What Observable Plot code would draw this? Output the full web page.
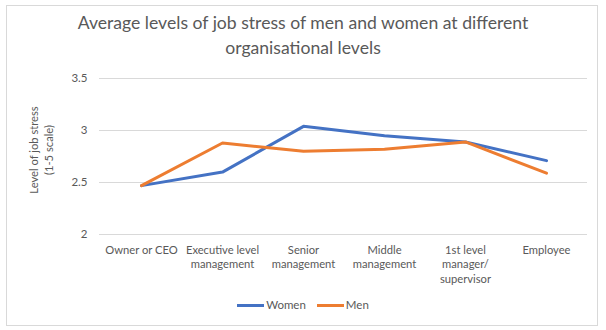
<!DOCTYPE html>
<html><head><meta charset="utf-8">
<script src="https://cdn.jsdelivr.net/npm/d3@7"></script>
<script src="https://cdn.jsdelivr.net/npm/@observablehq/plot@0.6"></script>
<style>
body{margin:0;background:#fff;font-family:Lato,"Open Sans",sans-serif;}
#wrap{position:relative;width:606px;height:330px;overflow:hidden;background:#fff;}
#frame{position:absolute;left:6px;top:5px;width:590px;height:319px;border:1px solid #d9d9d9;box-sizing:content-box;}
#title{position:absolute;left:0;top:10px;width:606px;text-align:center;font-size:17.6px;line-height:25px;color:#595959;}
#ytitle{position:absolute;left:41px;top:150px;width:140px;text-align:center;font-size:11.2px;line-height:15px;color:#595959;transform:translate(-50%,-50%) rotate(-90deg);white-space:pre;}
#chart{position:absolute;left:0;top:62px;}
#legend{position:absolute;left:0;top:297px;width:606px;display:flex;justify-content:center;gap:11px;font-size:11.5px;color:#595959;line-height:16px;}
.item{display:flex;align-items:center;gap:2px;}
.sw{width:27px;height:3px;display:inline-block;}
</style>
</head><body>
<div id="wrap">
<div id="frame"></div>
<div id="title">Average levels of job stress of men and women at different<br>organisational levels</div>
<div id="chart"></div>
<div id="ytitle"></div>
<div id="legend"></div>
</div>
<script>
const categories = ["Owner or CEO","Executive level management","Senior management","Middle management","1st level manager/ supervisor","Employee"];
const categoryLabels = ["Owner or CEO","Executive level\nmanagement","Senior\nmanagement","Middle\nmanagement","1st level\nmanager/\nsupervisor","Employee"];
const women = [2.47,2.60,3.04,2.95,2.89,2.71];
const men = [2.47,2.88,2.80,2.82,2.89,2.59];
const seriesNames = ["Women","Men"];
const seriesColors = ["#4472C4","#ED7D31"];
const yTicks = [2,2.5,3,3.5];
const yTitle = "Level of job stress\n(1-5 scale)";

const rows = [];
[women, men].forEach((vals, s) => vals.forEach((v, i) => rows.push({series: seriesNames[s], category: categories[i], value: v})));
const labelRows = categories.map((c, i) => ({category: c, label: categoryLabels[i]}));

const chart = Plot.plot({
  width: 606, height: 235,
  marginLeft: 99, marginRight: 19, marginTop: 16, marginBottom: 63,
  style: {color: "#595959", fontFamily: "Lato, 'Open Sans', sans-serif", background: "transparent"},
  x: {type: "point", domain: categories, padding: 0.5, axis: null},
  y: {domain: [2, 3.5], axis: null},
  color: {domain: seriesNames, range: seriesColors},
  marks: [
    Plot.ruleY(yTicks, {stroke: "#d9d9d9", strokeWidth: 1}),
    Plot.axisY(yTicks, {tickSize: 0, tickPadding: 12, fontSize: 11.5, label: null, tickFormat: d => String(d), fill: "#595959"}),
    Plot.text(labelRows, {x: "category", text: "label", frameAnchor: "bottom", lineAnchor: "top", dy: 9, fontSize: 11.2, lineHeight: 1.3, fill: "#595959"}),
    Plot.line(rows, {x: "category", y: "value", z: "series", stroke: "series", strokeWidth: 3, strokeLinejoin: "round", strokeLinecap: "round"})
  ]
});
document.getElementById("chart").appendChild(chart);
document.getElementById("ytitle").textContent = yTitle;

const legend = document.getElementById("legend");
seriesNames.forEach((n, i) => {
  const it = document.createElement("span");
  it.className = "item";
  const sw = document.createElement("span");
  sw.className = "sw";
  sw.style.background = seriesColors[i];
  const t = document.createElement("span");
  t.textContent = n;
  it.appendChild(sw); it.appendChild(t);
  legend.appendChild(it);
});
</script>
</body></html>
